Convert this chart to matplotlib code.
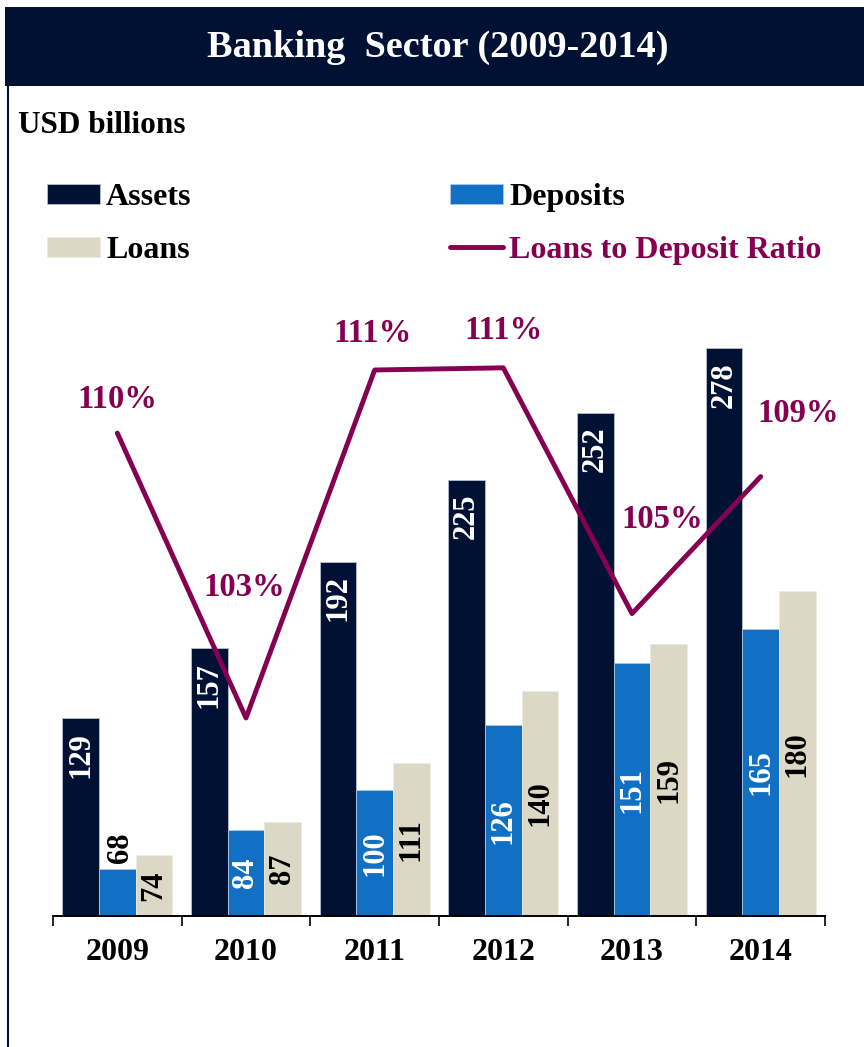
import numpy as np
import matplotlib.pyplot as plt
from matplotlib.patches import Rectangle
from matplotlib.lines import Line2D

plt.rcParams['font.family'] = ['Liberation Serif', 'DejaVu Serif']
plt.rcParams['font.weight'] = 'bold'

# ------------------------------
# Data (USD billions, ratio in %)
# ------------------------------
years = ['2009', '2010', '2011', '2012', '2013', '2014']
assets = [129, 157, 192, 225, 252, 278]
deposits = [68, 84, 100, 126, 151, 165]
loans = [74, 87, 111, 140, 159, 180]
ratio = [109.55, 103.0, 111.0, 111.05, 105.4, 108.55]

c_assets = '#001133'
c_dep = '#1170C4'
c_loans = '#DDD8C6'
c_ratio = '#850050'

fig = plt.figure(figsize=(8.64, 10.47), dpi=100)

# banner + left border
fig.add_artist(Rectangle((0.0058, 0.9179), 0.9942, 0.0755, transform=fig.transFigure,
                         facecolor=c_assets, edgecolor='none'))
fig.add_artist(Line2D([0.0093, 0.0093], [0.0, 0.918], transform=fig.transFigure,
                      color=c_assets, lw=1.5))
fig.text(0.507, 0.955, 'Banking  Sector (2009-2014)', color='white', fontsize=27.5,
         fontweight='bold', ha='center', va='center')
fig.text(0.021, 0.880, 'USD billions', fontsize=22.5, fontweight='bold',
         ha='left', va='center')

ax = fig.add_axes([0.06134, 0.12512, 0.89352, 0.5979])
x = np.arange(len(years))
w = 0.285
ymin, ymax = 49.25, 301.4

b1 = ax.bar(x - w, assets, w, color=c_assets, edgecolor='#b8bfcc', lw=0.6, label='Assets')
b2 = ax.bar(x, deposits, w, color=c_dep, edgecolor='#a8c8e8', lw=0.6, label='Deposits')
b3 = ax.bar(x + w, loans, w, color=c_loans, edgecolor='#eeeae0', lw=0.6, label='Loans')
ax.set_ylim(ymin, ymax)
ax.set_xlim(-0.5, len(years) - 0.5)

# value labels
for i in range(len(years)):
    ax.annotate(str(assets[i]), (x[i] - w, assets[i]), xytext=(0, -10),
                textcoords='offset points', rotation=90, ha='center', va='top',
                color='white', fontsize=22, fontweight='bold')
    if deposits[i] < 75:
        ax.annotate(str(deposits[i]), (x[i], deposits[i]), xytext=(2, 5),
                    textcoords='offset points', rotation=90, ha='center', va='bottom',
                    color='black', fontsize=22, fontweight='bold')
    else:
        ax.text(x[i], (ymin + deposits[i]) / 2, str(deposits[i]), rotation=90,
                ha='center', va='center', color='white', fontsize=22, fontweight='bold')
    ax.text(x[i] + w, (ymin + loans[i]) / 2, str(loans[i]), rotation=90,
            ha='center', va='center', color='black', fontsize=22, fontweight='bold')

for s in ['top', 'right', 'left']:
    ax.spines[s].set_visible(False)
ax.spines['bottom'].set_linewidth(1.4)
ax.set_yticks([])
ax.set_xticks(x)
ax.set_xticklabels(years, fontsize=23, fontweight='bold')
ax.tick_params(axis='x', which='major', length=0, pad=16)
ax.set_xticks(np.arange(-0.5, len(years)), minor=True)
ax.tick_params(axis='x', which='minor', length=7.2, width=1.2, direction='out')

# ratio line
ax2 = ax.twinx()
ax2.set_ylim(98.448, 112.839)
ln, = ax2.plot(x, ratio, color=c_ratio, lw=3.5, solid_capstyle='round',
               label='Loans to Deposit Ratio')
ax2.axis('off')
offs = [(0, 24.5), (-1.4, 93.6), (-1.4, 26.3), (0, 26.6), (21.6, 68), (27, 45.7)]
for i, r in enumerate(ratio):
    ax2.annotate(f'{r:.0f}%', (x[i], r), xytext=offs[i], textcoords='offset points',
                 ha='center', va='center', color=c_ratio, fontsize=23.5, fontweight='bold')

leg = fig.legend([b1, b3, b2, ln], ['Assets', 'Loans', 'Deposits', 'Loans to Deposit Ratio'],
                 loc='upper left', bbox_to_anchor=(47 / 864, 1 - 183 / 1047), ncol=2,
                 frameon=False, fontsize=23, borderpad=0, borderaxespad=0,
                 handlelength=1.65, handleheight=0.57, handletextpad=0.2,
                 columnspacing=8.1, labelspacing=0.75,
                 labelcolor=['black', 'black', 'black', c_ratio])

fig.savefig('out.png', dpi=100)
